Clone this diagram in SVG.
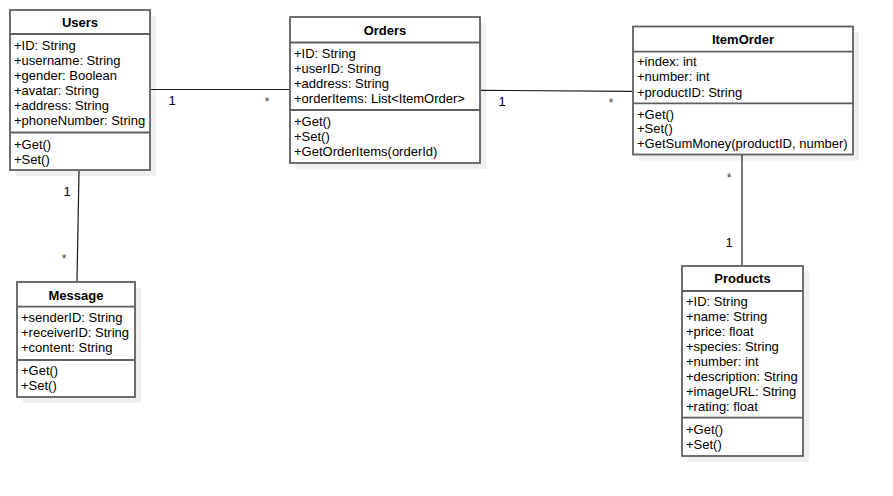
<svg xmlns="http://www.w3.org/2000/svg" width="893" height="496" viewBox="0 0 893 496">
<style>
.shadow{fill:#efefef;stroke:none}
.box{fill:#ffffff;stroke:#606060;stroke-width:1.8}
.div{stroke:#606060;stroke-width:1.8;fill:none}
.t{font-family:"Liberation Sans",Arial,sans-serif;font-size:13px;fill:#000}
.title{font-family:"Liberation Sans",Arial,sans-serif;font-size:13px;font-weight:bold;fill:#000;text-anchor:middle}
.lbl{font-family:"Liberation Sans",Arial,sans-serif;font-size:13px;fill:#000;text-anchor:middle}
.star{font-family:"Liberation Sans",Arial,sans-serif;font-size:12px;fill:#444;text-anchor:middle}
.edge{stroke:#1a1a1a;stroke-width:1.2;fill:none}
</style>
<rect width="893" height="496" fill="#ffffff"/>
<g id="users">
<rect class="shadow" x="16" y="16" width="140" height="160"/>
<rect class="box" x="10" y="10" width="140" height="160"/>
<line class="div" x1="10" y1="34" x2="150" y2="34"/>
<line class="div" x1="10" y1="132.5" x2="150" y2="132.5"/>
<text class="title" x="80" y="27">Users</text>
<text class="t" x="14" y="50">+ID: String</text>
<text class="t" x="14" y="65">+username: String</text>
<text class="t" x="14" y="80">+gender: Boolean</text>
<text class="t" x="14" y="95">+avatar: String</text>
<text class="t" x="14" y="110">+address: String</text>
<text class="t" x="14" y="125">+phoneNumber: String</text>
<text class="t" x="14" y="148.5">+Get()</text>
<text class="t" x="14" y="163.5">+Set()</text>
</g>
<g id="orders">
<rect class="shadow" x="296" y="23" width="190" height="146"/>
<rect class="box" x="290" y="17" width="190" height="146"/>
<line class="div" x1="290" y1="42.5" x2="480" y2="42.5"/>
<line class="div" x1="290" y1="110" x2="480" y2="110"/>
<text class="title" x="385" y="35">Orders</text>
<text class="t" x="294" y="57.5">+ID: String</text>
<text class="t" x="294" y="72.5">+userID: String</text>
<text class="t" x="294" y="87.5">+address: String</text>
<text class="t" x="294" y="102.5">+orderItems: List&lt;ItemOrder&gt;</text>
<text class="t" x="294" y="126">+Get()</text>
<text class="t" x="294" y="141">+Set()</text>
<text class="t" x="294" y="156">+GetOrderItems(orderId)</text>
</g>
<g id="itemorder">
<rect class="shadow" x="639" y="32.5" width="220" height="128"/>
<rect class="box" x="633" y="26.5" width="220" height="128"/>
<line class="div" x1="633" y1="51.7" x2="853" y2="51.7"/>
<line class="div" x1="633" y1="103.3" x2="853" y2="103.3"/>
<text class="title" x="743" y="43.5">ItemOrder</text>
<text class="t" x="637" y="66">+index: int</text>
<text class="t" x="637" y="81">+number: int</text>
<text class="t" x="637" y="96.5">+productID: String</text>
<text class="t" x="637" y="118.5">+Get()</text>
<text class="t" x="637" y="133">+Set()</text>
<text class="t" x="637" y="148">+GetSumMoney(productID, number)</text>
</g>
<g id="message">
<rect class="shadow" x="23" y="288" width="118" height="115"/>
<rect class="box" x="17" y="282" width="118" height="115"/>
<line class="div" x1="17" y1="306.7" x2="135" y2="306.7"/>
<line class="div" x1="17" y1="360" x2="135" y2="360"/>
<text class="title" x="76" y="299.5">Message</text>
<text class="t" x="21" y="322">+senderID: String</text>
<text class="t" x="21" y="337">+receiverID: String</text>
<text class="t" x="21" y="352">+content: String</text>
<text class="t" x="21" y="374.5">+Get()</text>
<text class="t" x="21" y="389.5">+Set()</text>
</g>
<g id="products">
<rect class="shadow" x="688" y="272" width="121" height="190"/>
<rect class="box" x="682" y="266" width="121" height="190"/>
<line class="div" x1="682" y1="291" x2="803" y2="291"/>
<line class="div" x1="682" y1="417.7" x2="803" y2="417.7"/>
<text class="title" x="742.5" y="283">Products</text>
<text class="t" x="686" y="306">+ID: String</text>
<text class="t" x="686" y="321">+name: String</text>
<text class="t" x="686" y="336">+price: float</text>
<text class="t" x="686" y="351">+species: String</text>
<text class="t" x="686" y="366">+number: int</text>
<text class="t" x="686" y="381">+description: String</text>
<text class="t" x="686" y="396">+imageURL: String</text>
<text class="t" x="686" y="411">+rating: float</text>
<text class="t" x="686" y="434">+Get()</text>
<text class="t" x="686" y="449">+Set()</text>
</g>
<g id="connectors">
<line class="edge" x1="151" y1="89.5" x2="289" y2="89.5"/>
<line class="edge" x1="481" y1="90.3" x2="632" y2="91.3"/>
<line class="edge" x1="79" y1="171" x2="77" y2="281"/>
<line class="edge" x1="742" y1="155" x2="742" y2="265"/>
<text class="lbl" x="172" y="105">1</text>
<text class="star" x="267" y="106">*</text>
<text class="lbl" x="502" y="106">1</text>
<text class="star" x="611" y="107">*</text>
<text class="lbl" x="67" y="196">1</text>
<text class="star" x="64" y="263">*</text>
<text class="star" x="729" y="182">*</text>
<text class="lbl" x="729" y="247">1</text>
</g>
</svg>
